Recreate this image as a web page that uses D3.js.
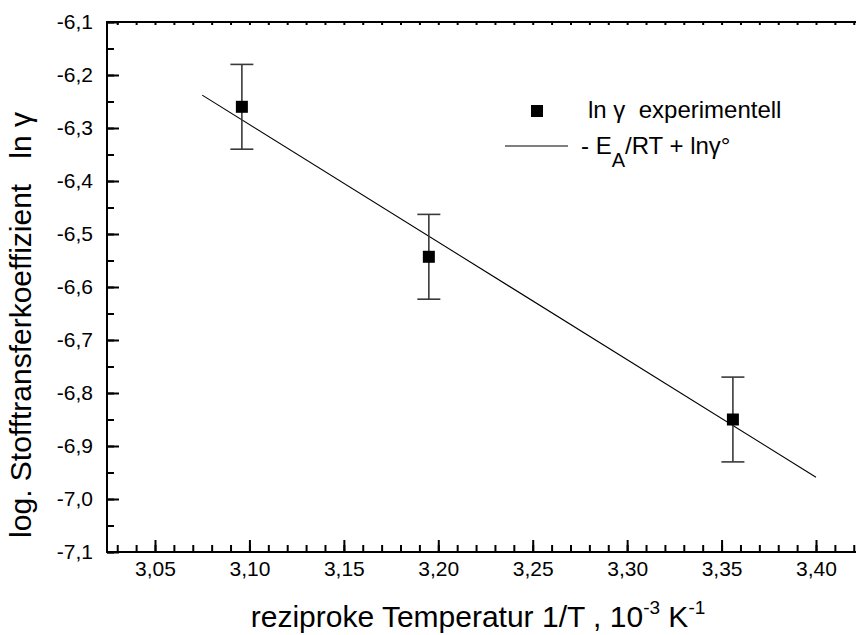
<!DOCTYPE html>
<html>
<head>
<meta charset="utf-8">
<script src="https://cdn.jsdelivr.net/npm/d3@7"></script>
<style>
  html, body { margin: 0; padding: 0; background: #fff; }
  svg { display: block; font-family: "Liberation Sans", Arial, sans-serif; }
  text { white-space: pre; }
</style>
</head>
<body>
<svg id="chart" width="856" height="635"></svg>
<script>
// Measured reciprocal temperatures (10^-3 K^-1) and ln(gamma) values
const invTemp = [3.096, 3.195, 3.356];
const lnGamma = [-6.26, -6.543, -6.85];
const lnGammaErr = [0.08, 0.08, 0.08];

// Arrhenius fit  -E_A/RT + ln(gamma°), drawn between its two end points
const fitX = [3.075, 3.40];
const fitY = [-6.238, -6.959];

// Axis ticks
const xMajorTicks = [3.05, 3.10, 3.15, 3.20, 3.25, 3.30, 3.35, 3.40];
const xMinorTicks = d3.range(303, 343).map(d => d / 100);
const yMajorTicks = [-7.1, -7.0, -6.9, -6.8, -6.7, -6.6, -6.5, -6.4, -6.3, -6.2, -6.1];
const yMinorTicks = d3.range(-710, -605, 5).map(d => d / 100);

const locale = d3.formatLocale({decimal: ",", thousands: ".", grouping: [3], currency: ["", ""], minus: "-"});
const fmtX = locale.format(".2f");
const fmtY = locale.format(".1f");

const svg = d3.select("#chart");

const plotLeft = 107, plotTop = 22, plotBottom = 552;
const x = d3.scaleLinear().domain([3.05, 3.40]).range([155, 816]);
const y = d3.scaleLinear().domain([-7.1, -6.1]).range([plotBottom, plotTop]);
const plotRight = 870;

// Bottom axis: minor ticks, then major ticks with labels
const gx = svg.append("g").attr("transform", `translate(0,${plotBottom})`);
gx.call(d3.axisBottom(x).tickValues(xMinorTicks).tickSize(-7).tickSizeOuter(0).tickFormat(""))
  .call(g => g.select(".domain").remove());
gx.append("g").call(d3.axisBottom(x).tickValues(xMajorTicks).tickSize(-12).tickSizeOuter(0)
    .tickPadding(9).tickFormat(fmtX))
  .call(g => g.select(".domain").remove());
gx.selectAll("line").attr("stroke", "#000").attr("stroke-width", 2);
gx.selectAll("text").attr("font-size", 21).attr("fill", "#000")
  .attr("font-family", "'Liberation Sans', Arial, sans-serif");

// Left axis
const gy = svg.append("g").attr("transform", `translate(${plotLeft},0)`);
gy.call(d3.axisLeft(y).tickValues(yMinorTicks).tickSize(-7).tickSizeOuter(0).tickFormat(""))
  .call(g => g.select(".domain").remove());
gy.append("g").call(d3.axisLeft(y).tickValues(yMajorTicks).tickSize(-12).tickSizeOuter(0)
    .tickPadding(14).tickFormat(fmtY))
  .call(g => g.select(".domain").remove());
gy.selectAll("line").attr("stroke", "#000").attr("stroke-width", 2);
gy.selectAll("text").attr("font-size", 21).attr("fill", "#000")
  .attr("font-family", "'Liberation Sans', Arial, sans-serif");

// Top axis with short tick marks
const gt = svg.append("g").attr("transform", `translate(0,${plotTop})`);
gt.call(d3.axisTop(x).tickValues(xMinorTicks).tickSize(-3).tickSizeOuter(0).tickFormat(""))
  .call(g => g.select(".domain").remove());
gt.selectAll("line").attr("stroke", "#000").attr("stroke-width", 2);

// Frame lines
svg.append("line").attr("x1", plotLeft).attr("x2", plotRight).attr("y1", plotTop).attr("y2", plotTop)
  .attr("stroke", "#000").attr("stroke-width", 2);
svg.append("line").attr("x1", plotLeft).attr("x2", plotRight).attr("y1", plotBottom).attr("y2", plotBottom)
  .attr("stroke", "#000").attr("stroke-width", 2);
svg.append("line").attr("x1", plotLeft).attr("x2", plotLeft).attr("y1", plotTop - 1).attr("y2", plotBottom + 1)
  .attr("stroke", "#000").attr("stroke-width", 2);

// Fit line
const fitData = fitX.map((v, i) => [v, fitY[i]]);
svg.append("path").datum(fitData)
  .attr("d", d3.line().x(d => x(d[0])).y(d => y(d[1])))
  .attr("fill", "none").attr("stroke", "#000").attr("stroke-width", 1.1);

// Error bars
const pts = invTemp.map((v, i) => ({x: v, y: lnGamma[i], e: lnGammaErr[i]}));
const eb = svg.append("g").attr("stroke", "#3a3a3a").attr("stroke-width", 1.6);
pts.forEach(p => {
  eb.append("line").attr("x1", x(p.x)).attr("x2", x(p.x)).attr("y1", y(p.y + p.e)).attr("y2", y(p.y - p.e));
  eb.append("line").attr("x1", x(p.x) - 11.5).attr("x2", x(p.x) + 11.5).attr("y1", y(p.y + p.e)).attr("y2", y(p.y + p.e));
  eb.append("line").attr("x1", x(p.x) - 11.5).attr("x2", x(p.x) + 11.5).attr("y1", y(p.y - p.e)).attr("y2", y(p.y - p.e));
});

// Square markers
const ms = 12;
svg.append("g").selectAll("rect").data(pts).join("rect")
  .attr("x", d => x(d.x) - ms / 2).attr("y", d => y(d.y) - ms / 2)
  .attr("width", ms).attr("height", ms).attr("fill", "#000");

// Legend
const lg = svg.append("g").attr("font-size", 24).attr("fill", "#000");
lg.append("rect").attr("x", 531).attr("y", 105).attr("width", 12).attr("height", 12).attr("fill", "#000");
lg.append("text").attr("x", 588).attr("y", 118).text("ln γ  experimentell");
lg.append("line").attr("x1", 505).attr("x2", 568).attr("y1", 146).attr("y2", 146)
  .attr("stroke", "#000").attr("stroke-width", 1.1);
const lt = lg.append("text").attr("x", 581).attr("y", 154);
lt.append("tspan").text("- E");
lt.append("tspan").attr("dy", 13).attr("font-size", 20).text("A");
lt.append("tspan").attr("dy", -13).text("/RT + lnγ°");

// Axis titles
const xt = svg.append("text").attr("x", 478).attr("y", 627).attr("text-anchor", "middle")
  .attr("font-size", 30).attr("fill", "#000");
xt.append("tspan").text("reziproke Temperatur 1/T , 10");
xt.append("tspan").attr("dy", -13).attr("font-size", 19).text("-3");
xt.append("tspan").attr("dy", 13).text(" K");
xt.append("tspan").attr("dy", -13).attr("font-size", 19).text("-1");

svg.append("text")
  .attr("transform", `translate(31,325) rotate(-90)`)
  .attr("text-anchor", "middle").attr("font-size", 30).attr("fill", "#000")
  .text("log. Stofftransferkoeffizient   ln γ");
</script>
</body>
</html>
